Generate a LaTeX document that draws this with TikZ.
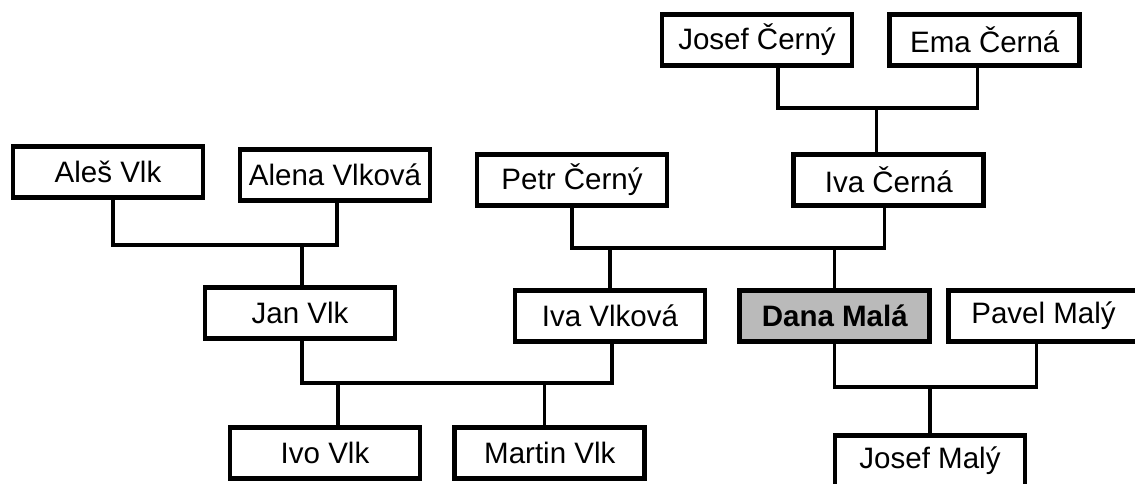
\documentclass[tikz,border=0pt]{standalone}
\usepackage{fontspec}
\setmainfont{Liberation Sans}
\usetikzlibrary{positioning}
\tikzset{
        person/.style = {draw, rectangle, line width=3.4pt,
            minimum height=1.275cm,
            minimum width=4.75cm, inner sep=0pt,
            font=\fontsize{21}{25}\selectfont},
        self/.style = {person, fill=black!27,
            font=\fontsize{21}{25}\selectfont\bfseries},
        link/.style = {draw, line width=2.4pt},
    }

\begin{document}
\begin{tikzpicture}
    \clip (0,0) rectangle (28.375,-12.1);
    \useasboundingbox (0,0) rectangle (28.375,-12.1);

    % grandparents
    \node[person] (josefc) at (18.925,-1.0) {Josef Černý};
    \node[person, right=0.825cm of josefc] (emac) {Ema Černá};

    % parents
    \node[person] (ales) at (2.7,-4.3) {Aleš Vlk};
    \node[person] (alena) at (8.375,-4.375) {Alena Vlková};
    \node[person] (petr) at (14.3,-4.5) {Petr Černý};
    \node[person, right=3.05cm of petr] (ivac) {Iva Černá};

    \node[person] (jan) at (7.5,-7.825) {Jan Vlk};
    \node[person] (ivav) at (15.25,-7.9) {Iva Vlková};
    \node[self, right=0.75cm of ivav] (dana) {Dana Malá};
    \node[person, right=0.35cm of dana] (pavel) {Pavel Malý};

    % children
    \node[person] (ivo) at (8.125,-11.325) {Ivo Vlk};
    \node[person, right=0.75cm of ivo] (martin) {Martin Vlk};
    \node[person] (josefm) at (23.25,-11.525) {Josef Malý};

    % couples and their children
    \draw[link] ([xshift=5.25mm]josefc.south) -- ++(0,-1) -| ([xshift=-1.75mm]emac.south);
    \draw[link] ([xshift=-3mm]ivac.north) -- ++(0,1.1);

    \draw[link] ([xshift=1.25mm]ales.south) -- ++(0,-1.125) -| ([xshift=0.5mm]alena.south);
    \draw[link] ([xshift=0.5mm]jan.north) -- ++(0,1);

    \draw[link] (petr.south) -- ++(0,-1) -| ([xshift=-1mm]ivac.south);
    \draw[link] (ivav.north) -- ++(0,1);
    \draw[link] (dana.north) -- ++(0,1);

    \draw[link] ([xshift=0.5mm]jan.south) -- ++(0,-1.05) -| ([xshift=0.5mm]ivav.south);
    \draw[link] ([xshift=3.25mm]ivo.north) -- ++(0,1.05);
    \draw[link] ([xshift=-1.25mm]martin.north) -- ++(0,1.05);

    \draw[link] (dana.south) -- ++(0,-1.075) -| ([xshift=-1.75mm]pavel.south);
    \draw[link] (josefm.north) -- ++(0,1.15);
\end{tikzpicture}
\end{document}
